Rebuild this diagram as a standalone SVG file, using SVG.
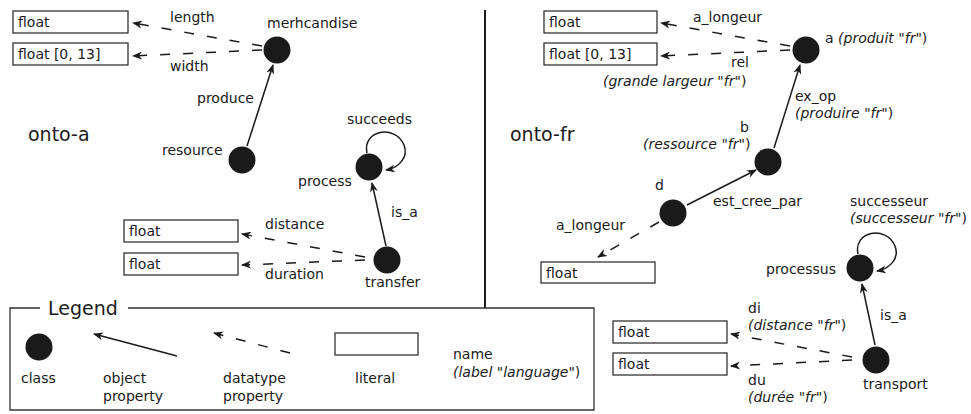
<svg xmlns="http://www.w3.org/2000/svg" width="971" height="414" viewBox="0 0 971 414">
  <style>
    text { font-family: "DejaVu Sans", "Liberation Sans", sans-serif; font-size: 14px; fill: #1a1a1a; }
    .title { font-size: 19px; }
    .it { font-style: italic; }
    .cls { fill: #1a1a1a; }
    .lit { fill: #ffffff; stroke: #333333; stroke-width: 1.3; }
    .obj { fill: none; stroke: #1a1a1a; stroke-width: 1.5; marker-end: url(#arrow); }
    .dat { fill: none; stroke: #1a1a1a; stroke-width: 1.5; stroke-dasharray: 10 13; marker-end: url(#arrow); }
    .frame { fill: none; stroke: #333333; stroke-width: 1.3; }
  </style>
  <defs>
    <marker id="arrow" viewBox="0 0 10 8" refX="9" refY="4" markerWidth="10" markerHeight="8" markerUnits="userSpaceOnUse" orient="auto">
      <path d="M0,0 L10,4 L0,8 L3,4 z" fill="#1a1a1a"/>
    </marker>
  </defs>

  <!-- panel divider -->
  <line x1="485" y1="10" x2="485" y2="308" stroke="#1a1a1a" stroke-width="2"/>

  <!-- ontology titles -->
  <text class="title" x="28" y="141">onto-a</text>
  <text class="title" x="510" y="141">onto-fr</text>

  <!-- connectors -->
  <g id="connectors">
    <!-- onto-a -->
    <path class="dat" d="M262,46 L133,23"/>
    <path class="dat" d="M262,50 L133,56"/>
    <path class="obj" d="M247,146 L273,65"/>
    <path class="obj" d="M367,153 C362,130 395,124 404,145 C409,158 398,168 386,170"/>
    <path class="obj" d="M386,246 L372,183"/>
    <path class="dat" d="M365,257 L242,234"/>
    <path class="dat" d="M365,260 L242,265"/>
    <!-- onto-fr -->
    <path class="dat" d="M790,46 L661,23"/>
    <path class="dat" d="M790,50 L661,56"/>
    <path class="obj" d="M774,148 L800,65"/>
    <path class="obj" d="M687,205 L756,170"/>
    <path class="dat" d="M659,222 L598,257"/>
    <path class="obj" d="M858,254 C853,231 886,225 895,246 C900,259 889,269 877,271"/>
    <path class="obj" d="M875,345 L862,284"/>
    <path class="dat" d="M852,357 L731,334"/>
    <path class="dat" d="M852,360 L731,366"/>
  </g>

  <!-- onto-a nodes -->
  <g id="a-length-literal">
    <rect class="lit" x="13" y="11" width="115" height="22"/>
    <text x="18" y="27">float</text>
    <text x="170" y="22">length</text>
  </g>
  <g id="a-width-literal">
    <rect class="lit" x="13" y="43" width="115" height="22"/>
    <text x="18" y="59">float [0, 13]</text>
    <text x="170" y="71">width</text>
  </g>
  <g id="a-merhcandise">
    <circle class="cls" cx="277" cy="50" r="13.5"/>
    <text x="267" y="28">merhcandise</text>
  </g>
  <g id="a-resource">
    <circle class="cls" cx="242" cy="160" r="13.5"/>
    <text x="162" y="155">resource</text>
    <text x="197" y="103">produce</text>
  </g>
  <g id="a-process">
    <circle class="cls" cx="369" cy="167" r="13.5"/>
    <text x="298" y="186">process</text>
    <text x="347" y="124">succeeds</text>
  </g>
  <g id="a-transfer">
    <circle class="cls" cx="387" cy="260" r="13.5"/>
    <text x="365" y="287">transfer</text>
    <text x="391" y="217">is_a</text>
  </g>
  <g id="a-distance-literal">
    <rect class="lit" x="124" y="220" width="114" height="22"/>
    <text x="129" y="236">float</text>
    <text x="265" y="229">distance</text>
  </g>
  <g id="a-duration-literal">
    <rect class="lit" x="124" y="253" width="114" height="22"/>
    <text x="129" y="269">float</text>
    <text x="265" y="279">duration</text>
  </g>

  <!-- onto-fr nodes -->
  <g id="fr-longeur-literal">
    <rect class="lit" x="544" y="11" width="113" height="22"/>
    <text x="549" y="27">float</text>
    <text x="693" y="22">a_longeur</text>
  </g>
  <g id="fr-rel-literal">
    <rect class="lit" x="544" y="43" width="113" height="22"/>
    <text x="549" y="59">float [0, 13]</text>
    <text x="731" y="67">rel</text>
    <text x="603" y="86"><tspan class="it">(grande largeur</tspan> "<tspan class="it">fr</tspan>")</text>
  </g>
  <g id="fr-a">
    <circle class="cls" cx="806" cy="50" r="13.5"/>
    <text x="825" y="43">a <tspan class="it">(produit</tspan> "<tspan class="it">fr</tspan>")</text>
    <text x="795" y="101">ex_op</text>
    <text x="795" y="118"><tspan class="it">(produire</tspan> "<tspan class="it">fr</tspan>")</text>
  </g>
  <g id="fr-b">
    <circle class="cls" cx="768" cy="162" r="13.5"/>
    <text x="740" y="132">b</text>
    <text x="643" y="149"><tspan class="it">(ressource</tspan> "<tspan class="it">fr</tspan>")</text>
  </g>
  <g id="fr-d">
    <circle class="cls" cx="673" cy="213" r="13.5"/>
    <text x="655" y="190">d</text>
    <text x="713" y="206">est_cree_par</text>
    <text x="556" y="230">a_longeur</text>
  </g>
  <g id="fr-d-literal">
    <rect class="lit" x="541" y="262" width="114" height="21"/>
    <text x="546" y="278">float</text>
  </g>
  <g id="fr-processus">
    <circle class="cls" cx="860" cy="268" r="13.5"/>
    <text x="766" y="274">processus</text>
    <text x="850" y="206">successeur</text>
    <text x="850" y="223"><tspan class="it">(successeur</tspan> "<tspan class="it">fr</tspan>")</text>
  </g>
  <g id="fr-transport">
    <circle class="cls" cx="876" cy="360" r="13.5"/>
    <text x="863" y="389">transport</text>
    <text x="880" y="320">is_a</text>
  </g>
  <g id="fr-di-literal">
    <rect class="lit" x="613" y="321" width="114" height="22"/>
    <text x="618" y="337">float</text>
    <text x="748" y="313">di</text>
    <text x="748" y="330"><tspan class="it">(distance</tspan> "<tspan class="it">fr</tspan>")</text>
  </g>
  <g id="fr-du-literal">
    <rect class="lit" x="613" y="353" width="114" height="22"/>
    <text x="618" y="369">float</text>
    <text x="748" y="385">du</text>
    <text x="748" y="402"><tspan class="it">(durée</tspan> "<tspan class="it">fr</tspan>")</text>
  </g>

  <!-- legend -->
  <g id="legend">
    <path class="frame" d="M40,308 L10,308 L10,410 L594,410 L594,308 L128,308"/>
    <text class="title" x="48" y="315">Legend</text>
    <circle class="cls" cx="39" cy="347" r="13.5"/>
    <text x="21" y="383">class</text>
    <path class="obj" d="M177,356 L94,334"/>
    <text x="103" y="383">object</text>
    <text x="103" y="401">property</text>
    <path class="dat" d="M290,353 L214,333"/>
    <text x="223" y="383">datatype</text>
    <text x="223" y="401">property</text>
    <rect class="lit" x="335" y="333" width="83" height="22"/>
    <text x="355" y="383">literal</text>
    <text x="453" y="359">name</text>
    <text x="453" y="377"><tspan class="it">(label</tspan> "<tspan class="it">language</tspan>")</text>
  </g>
</svg>
